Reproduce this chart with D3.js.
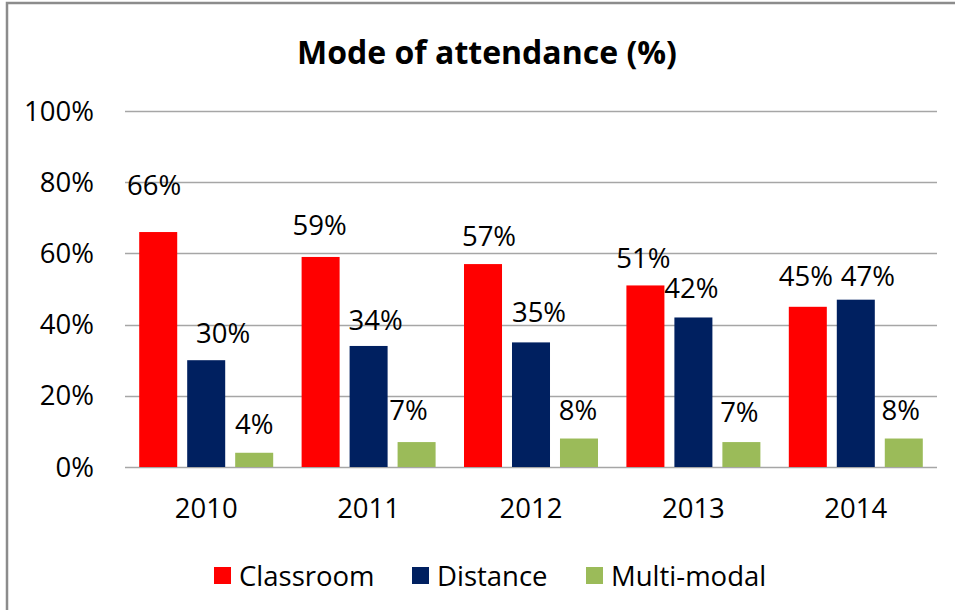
<!DOCTYPE html>
<html>
<head>
<meta charset="utf-8">
<script src="https://cdn.jsdelivr.net/npm/d3@7"></script>
<style>
  body { margin: 0; background: #fff; }
  svg text { font-family: "Open Sans", "Liberation Sans", Arial, sans-serif; fill: #000; }
</style>
</head>
<body>
<svg id="chart"></svg>
<script>
var years = ["2010", "2011", "2012", "2013", "2014"];
var seriesNames = ["Classroom", "Distance", "Multi-modal"];
var classroom = [66, 59, 57, 51, 45];
var distance = [30, 34, 35, 42, 47];
var multiModal = [4, 7, 8, 7, 8];
var yTicks = [0, 20, 40, 60, 80, 100];

// label nudges (the labels were hand placed in the original chart)
var labelNudge = [
  [[-4, -19], [17, 1], [0, 0]],
  [[-1, -4], [7, 2], [-8, -4]],
  [[6, 0], [8, -2], [-1, 0]],
  [[-2, 1], [-2, -1], [-2, -2]],
  [[-2, -2], [12, 5], [-3, 0]]
];

var width = 955, height = 610;
var colors = ["#ff0000", "#002060", "#9bbb59"];
var values = [classroom, distance, multiModal];

var svg = d3.select("#chart").attr("width", width).attr("height", height);

// chart frame
svg.append("rect")
  .attr("x", 7).attr("y", 3)
  .attr("width", width + 20).attr("height", height + 20)
  .attr("fill", "none").attr("stroke", "#8c8c8c").attr("stroke-width", 2.5);

var x = d3.scaleBand().domain(years).range([125, 937]);
var xs = d3.scaleBand().domain(seriesNames).range([0, x.bandwidth()])
  .paddingInner(0.208).paddingOuter(0.296);
var y = d3.scaleLinear().domain([0, 100]).range([467, 111]);

svg.append("text")
  .attr("x", 487).attr("y", 53).attr("dy", "0.35em")
  .attr("text-anchor", "middle")
  .style("font-size", "32px").style("font-weight", "bold")
  .text("Mode of attendance (%)");

// gridlines
svg.append("g").selectAll("line").data(yTicks).join("line")
  .attr("x1", 125).attr("x2", 937)
  .attr("y1", d => Math.round(y(d)) + 0.5).attr("y2", d => Math.round(y(d)) + 0.5)
  .attr("stroke", "#a6a6a6").attr("stroke-width", 1.5);

// y tick labels
svg.append("g").selectAll("text").data(yTicks).join("text")
  .attr("x", 94).attr("y", d => y(d)).attr("dy", "0.35em")
  .attr("text-anchor", "end")
  .style("font-size", "27.5px")
  .text(d => d + "%");

// x labels
svg.append("g").selectAll("text").data(years).join("text")
  .attr("x", d => x(d) + x.bandwidth() / 2).attr("y", 508).attr("dy", "0.35em")
  .attr("text-anchor", "middle")
  .style("font-size", "27.5px")
  .text(d => d);

var rows = [];
years.forEach(function(yr, i) {
  seriesNames.forEach(function(s, j) {
    rows.push({ year: yr, series: s, value: values[j][i], color: colors[j], nudge: labelNudge[i][j] });
  });
});

svg.append("g").selectAll("rect").data(rows).join("rect")
  .attr("x", d => x(d.year) + xs(d.series))
  .attr("y", d => y(d.value))
  .attr("width", xs.bandwidth())
  .attr("height", d => y(0) - y(d.value))
  .attr("fill", d => d.color);

svg.append("g").selectAll("text").data(rows).join("text")
  .attr("x", d => x(d.year) + xs(d.series) + xs.bandwidth() / 2 + d.nudge[0])
  .attr("y", d => y(d.value) - 28 + d.nudge[1])
  .attr("dy", "0.35em")
  .attr("text-anchor", "middle")
  .style("font-size", "27.5px")
  .text(d => d.value + "%");

// legend
var legendX = [214, 412, 586];
var legend = svg.append("g").selectAll("g").data(seriesNames).join("g")
  .attr("transform", (d, i) => "translate(" + legendX[i] + ",576)");
legend.append("rect")
  .attr("x", 0).attr("y", -9).attr("width", 17).attr("height", 17)
  .attr("fill", (d, i) => colors[i]);
legend.append("text")
  .attr("x", 25).attr("y", 0).attr("dy", "0.35em")
  .style("font-size", "27.5px")
  .text(d => d);
</script>
</body>
</html>
